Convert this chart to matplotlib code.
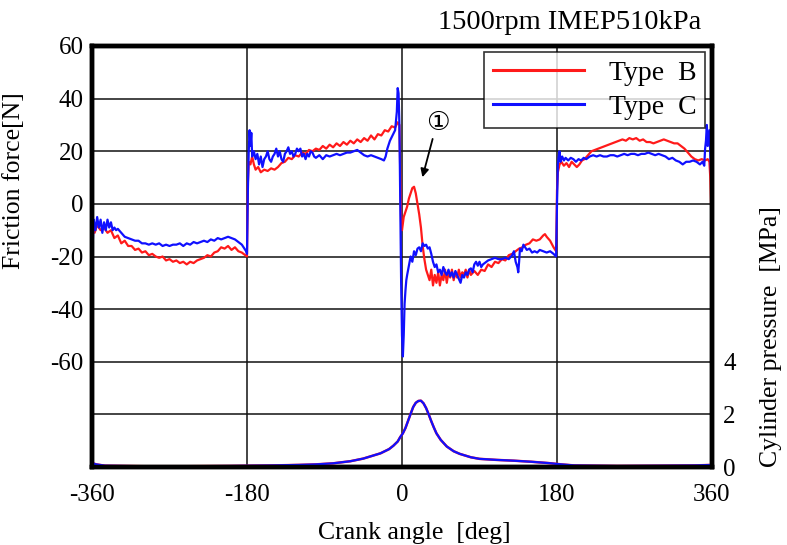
import matplotlib
matplotlib.use("Agg")
import matplotlib.pyplot as plt

plt.rcParams['font.family'] = ['Liberation Serif', 'DejaVu Sans']

# ---------------- data ----------------
title = "1500rpm IMEP510kPa"
series_names = ["Type  B", "Type  C"]
series_colors = ["#ff1a1a", "#1010ff"]

xb = [-360, -357, -354, -350, -346, -342, -338, -334, -330, -326, -322, -318, -314, -310,
      -306, -302, -298, -294, -290, -286, -282, -278, -274, -270, -266, -262, -258, -254,
      -250, -246, -242, -238, -234, -230, -226, -222, -218, -214, -210, -206, -202, -198,
      -194, -190, -186, -182, -180,
      -179, -178, -176, -174, -172, -170, -167, -164, -160, -156, -152, -148, -144, -140,
      -136, -132, -128, -124, -120, -116, -112, -108, -104, -100, -96, -92, -88, -84, -80,
      -76, -72, -68, -64, -60, -56, -52, -48, -44, -40, -36, -32, -28, -24, -20, -16, -12,
      -8, -5, -3, -1, 0, 2, 4, 6, 8, 10, 12, 14, 16, 18, 20, 22, 24, 26, 28, 30, 32, 34, 36,
      38, 40, 42, 44, 46, 48, 50, 52, 54, 56, 58, 60, 62, 64, 66, 68, 70, 72, 74, 76, 78,
      80, 84, 88, 92, 96, 100, 104, 108, 112, 116, 120, 124, 128, 132, 136, 140, 144, 148,
      152, 156, 160, 164, 166, 168, 172, 176, 179,
      180, 181, 183, 185, 188, 191, 194, 197, 200, 203, 206, 209, 212, 216, 220, 224, 228,
      232, 236, 240, 244, 248, 252, 256, 260, 264, 268, 272, 276, 280, 284, 288, 292, 296,
      300, 304, 308, 312, 316, 320, 324, 328, 332, 336, 340, 344, 348, 352, 355, 357, 358, 360]
fb = [-8, -11, -8, -10, -9, -11, -10, -13, -12, -15, -14, -16, -16, -17.5,
      -17, -18.5, -18, -19.5, -19, -20, -20.5, -20, -21.5, -21, -22, -21.5, -22.5, -22,
      -23, -22, -22.5, -21.5, -21, -20.5, -19.5, -20, -18.5, -18, -16.5, -17, -16, -17.5,
      -16.5, -18, -18.5, -19.5, -20,
      8, 16, 15, 18, 15, 13, 14, 12, 13, 12.5, 13.5, 13, 14, 15.5,
      16, 17.5, 17, 18.5, 18, 19.5, 19, 20.5, 20, 21, 20.5, 22, 21, 22.5, 21.5,
      23, 22, 23.5, 22.5, 24, 23, 24.5, 23.5, 25, 24, 26, 24.5, 26.5, 26, 28, 27.5, 29.5,
      29, 31, 30, -8, -10, -5, -3, -1, 2, 4, 6, 6.5, 4, 0, -4, -9, -16, -21, -25, -27, -29, -25, -31,
      -27, -30, -26, -31, -27, -29, -25, -30, -26, -28, -25, -29, -26, -28, -25, -28, -26, -27, -25, -28, -25,
      -27, -25.5, -27, -25, -25.5, -23, -24, -22, -22.5, -21, -21.5, -19.5, -19, -18, -17, -16.5, -15.5, -15,
      -13.5, -14, -13.5, -12, -11.5, -12.5, -14, -16.5, -18,
      5, 12, 15, 16, 14.5, 15.5, 14, 16, 15, 14, 15, 16.5, 17, 18.5, 20, 20.5, 21,
      21.5, 22, 22.5, 23, 23.5, 24, 24.5, 24, 25, 24.5, 25, 24, 24.5, 23.5, 23.5, 23, 23.5,
      24, 24.5, 24, 23.5, 23, 23, 22, 21, 19.5, 18, 17, 16.5, 17, 16.5, 17, 16, 10, -12]

xc = [-360, -359.5, -358, -356, -354, -352, -350, -348, -346, -344, -342, -340, -338, -336,
      -334, -332, -330, -326, -322, -318, -314, -310, -306, -302, -298, -294, -290, -286,
      -282, -278, -274, -270, -266, -262, -258, -254, -250, -246, -242, -238, -234, -230,
      -226, -222, -218, -214, -210, -206, -202, -198, -194, -190, -186, -183, -181, -180,
      -179, -178, -177, -176, -175, -174, -172, -170, -168, -166, -164, -162, -160, -158,
      -156, -154, -152, -150, -148, -146, -144, -142, -140, -138, -136, -134, -132, -130,
      -128, -126, -124, -122, -120, -118, -116, -114, -112, -110, -108, -106, -104, -102,
      -100, -96, -92, -88, -84, -80, -76, -72, -68, -64, -60, -56, -52, -48, -44, -40, -36,
      -32, -28, -24, -21, -19, -17, -14, -11, -8, -6, -5, -4, -3, -2, -1, 0, 1, 2, 3, 4, 5,
      6, 8, 10, 12, 14, 16, 18, 20, 22, 24, 26, 28, 30, 32, 34, 36, 38, 40, 42, 44, 46, 48,
      50, 52, 54, 56, 58, 60, 62, 64, 66, 68, 70, 72, 74, 76, 78, 80, 82, 84, 86, 88, 90,
      92, 94, 96, 98, 100, 104, 108, 112, 116, 120, 124, 128, 130, 132, 134, 135, 136, 137,
      139, 141, 143, 145, 148, 151, 154, 157, 160, 164, 168, 172, 176, 179,
      180, 181, 182, 183, 184, 186, 188, 190, 193, 196, 199, 202, 205, 208, 211, 214, 218,
      222, 226, 230, 234, 238, 242, 246, 250, 254, 258, 262, 266, 270, 274, 278, 282, 286,
      290, 294, 298, 302, 306, 310, 314, 318, 322, 326, 330, 334, 338, 342, 346, 349, 351,
      352, 353, 354, 355, 357, 359, 360]
fc = [1, -18, -6, -10, -5, -9, -6, -11, -7, -10, -6, -9, -7, -10,
      -9, -10, -9.5, -11, -12.5, -13, -13.5, -14, -14, -15, -15, -15.5, -15, -15.5,
      -15, -16, -15.5, -16, -15.5, -15.5, -15, -16, -15, -15.5, -14.5, -15, -14.5, -14,
      -14.5, -13.5, -14, -13, -13.5, -13, -12.5, -13, -13.5, -14.5, -15.5, -17, -18, -19,
      5, 20, 28, 22, 27, 18, 20, 17, 19, 15, 18, 14, 17, 18,
      20, 17, 16, 18, 19, 21, 18, 20, 17, 16, 19, 20, 21.5, 19,
      20, 18, 19, 21, 20, 21, 18, 19, 17, 19, 18, 20, 19.5, 18,
      17.5, 18.5, 17, 18.5, 18, 18.5, 19, 18.5, 19, 19.5, 19.5, 20, 20.5, 19.5, 18.5, 18, 18.5,
      18, 17.5, 17, 16.5, 18, 21, 24, 26, 28, 35, 44, 42, 30, 0, -30, -50, -58, -50, -38, -33, -29,
      -27, -23.5, -20, -22, -18, -19.5, -17, -16.5, -18, -15, -16, -15.5, -17, -16.5, -19, -22, -24, -23, -26, -25, -27, -24,
      -26, -27, -25, -27.5, -26, -28, -25.5, -27, -28.5, -30, -27, -28, -26, -27, -25, -24.5, -26, -23, -22, -23.5, -22,
      -24, -23, -22.5, -22, -21.5, -21, -20.5, -21, -21, -20.5, -21, -19.5, -18, -22, -24, -26, -22, -17,
      -18, -15.5, -16.5, -17.5, -17, -18.5, -18, -18.5, -17.5, -18, -18.5, -18, -19, -20,
      0, 15, 18, 20, 16, 18, 16.5, 17.5, 16.5, 17.5, 17, 16, 17, 16.5, 17.5, 17, 18,
      18.5, 18, 18.5, 18, 18, 18.5, 18.5, 18, 18.5, 19, 18.5, 19, 19, 18.5, 19, 19, 19.5,
      19, 18.5, 19, 18.5, 18, 17, 17.5, 16.5, 16, 15, 16, 16, 16.5, 16, 15, 16, 14.5,
      21, 24, 30, 22, 28, 10, 2]

xp = [-360, -355, -345, -300, -250, -200, -150, -120, -100, -80, -60, -45, -35, -25, -15,
      -10, -5, -2, 1, 4, 7, 10, 13, 16, 19, 22, 25, 28, 31, 34, 37, 40, 45, 52, 60, 67, 80,
      90, 110, 130, 150, 170, 185, 200, 250, 300, 340, 360]
pb = [0.15, 0.1, 0.05, 0.03, 0.03, 0.04, 0.06, 0.08, 0.1, 0.14, 0.22, 0.32, 0.42, 0.52, 0.68,
      0.81, 0.97, 1.14, 1.28, 1.48, 1.75, 2.02, 2.28, 2.44, 2.51, 2.52, 2.42, 2.24, 2.0, 1.74,
      1.5, 1.28, 1.03, 0.78, 0.6, 0.5, 0.37, 0.31, 0.27, 0.24, 0.2, 0.15, 0.1, 0.06, 0.04,
      0.05, 0.06, 0.08]
pc = [0.15, 0.1, 0.05, 0.03, 0.03, 0.04, 0.06, 0.08, 0.1, 0.14, 0.22, 0.32, 0.42, 0.52, 0.68,
      0.81, 0.97, 1.14, 1.28, 1.48, 1.75, 2.02, 2.28, 2.44, 2.51, 2.52, 2.42, 2.24, 2.0, 1.74,
      1.5, 1.28, 1.03, 0.78, 0.6, 0.5, 0.37, 0.31, 0.27, 0.24, 0.2, 0.15, 0.1, 0.06, 0.04,
      0.05, 0.06, 0.08]

x_ticks = [-360, -180, 0, 180, 360]
y_ticks = [-100, -80, -60, -40, -20, 0, 20, 40, 60]
y_ticklabels = ["", "", "-60", "-40", "-20", "0", "20", "40", "60"]
p_ticks = [0, 2, 4]

# ---------------- figure ----------------
fig = plt.figure(figsize=(7.87, 5.45), dpi=100)
ax = fig.add_axes([0.1169, 0.1431, 0.7878, 0.7725])
ax2 = ax.twinx()

ax.set_xlim(-360, 360)
ax.set_ylim(-100, 60)
ax2.set_ylim(0, 16)

for v in [-180, 0, 180]:
    ax.axvline(v, color="#111111", lw=1.1, zorder=1)
for v in [-80, -60, -40, -20, 0, 20, 40]:
    ax.axhline(v, color="#111111", lw=1.1, zorder=1)

lb, = ax.plot(xb, fb, color=series_colors[0], lw=1.6, zorder=3, label=series_names[0])
lc, = ax.plot(xc, fc, color=series_colors[1], lw=1.6, zorder=4, label=series_names[1])
ax2.plot(xp, pb, color=series_colors[0], lw=1.8)
ax2.plot(xp, pc, color=series_colors[1], lw=1.6)

ax.set_xticks(x_ticks)
ax.set_xticklabels([str(t) for t in x_ticks])
ax.set_yticks(y_ticks)
ax.set_yticklabels(y_ticklabels)
ax2.set_yticks(p_ticks)
ax2.set_yticklabels([str(t) for t in p_ticks])

ax.tick_params(axis="both", length=0, labelsize=18)
ax.tick_params(axis="x", pad=12)
ax.tick_params(axis="y", pad=6)
ax2.tick_params(axis="y", length=0, labelsize=18, pad=8)

for a in (ax, ax2):
    for s in a.spines.values():
        s.set_linewidth(3.2)
        s.set_color("black")

ax.set_xlabel("Crank angle  [deg]", fontsize=18.5)
ax.xaxis.set_label_coords(0.52, -0.131)
ax.set_ylabel("Friction force[N]", fontsize=18.5)
ax.yaxis.set_label_coords(-0.108, 0.68)
ax2.set_ylabel("Cylinder pressure  [MPa]", fontsize=18.5)
ax2.yaxis.set_label_coords(1.078, 0.309)

fig.text(0.724, 0.958, title, ha="center", va="center", fontsize=20.5)

leg = ax.legend(handles=[lb, lc], loc="upper right", bbox_to_anchor=(0.989, 0.985),
                frameon=True, fancybox=False, handlelength=3.3, handletextpad=0.9,
                borderpad=0.3, labelspacing=0.3, borderaxespad=0.0,
                prop={"family": "Liberation Serif", "size": 20})
leg.get_frame().set_edgecolor("black")
leg.get_frame().set_linewidth(1.2)
for h in leg.get_lines():
    h.set_linewidth(2.2)

ax.text(41.8, 30.7, "\u2460", family=["DejaVu Sans"], fontsize=19, ha="center", va="center", zorder=5)
ax.annotate("", xy=(22.9, 9.1), xytext=(36.4, 25.7),
            arrowprops=dict(arrowstyle="-|>", color="black", lw=1.3, mutation_scale=12), zorder=5)

fig.savefig("out.png", dpi=100)
